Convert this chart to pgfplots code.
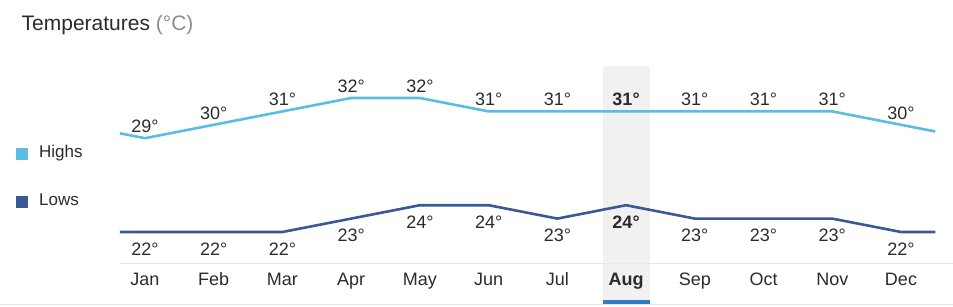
\documentclass[border=0pt]{standalone}
\usepackage{fontspec}
\setmainfont{Liberation Sans}
\usepackage{pgfplots}
\pgfplotsset{compat=1.18}
\definecolor{highc}{HTML}{5DBCE4}
\definecolor{lowc}{HTML}{3A5796}
\definecolor{textc}{HTML}{2B2B2B}
\definecolor{unitc}{HTML}{8C8C8C}
\definecolor{bandc}{HTML}{F1F1F2}
\definecolor{barc}{HTML}{2F7CC0}
\definecolor{gridc}{HTML}{E6E6E6}
\begin{document}
\begin{tikzpicture}
\useasboundingbox (-120pt,-1pt) rectangle (833pt,305pt);
% highlight band for August (x = 7 sits at 626px), drawn beneath the axis
\fill[bandc] (483pt,5pt) rectangle (530pt,239pt);
\fill[barc] (483pt,1pt) rectangle (530pt,5pt);
\draw[gridc, line width=1pt] (0pt,42pt) -- (833pt,42pt);
\begin{axis}[
  at={(0pt,0pt)}, anchor=south west,
  width=815.36pt, height=240pt, scale only axis,
  xmin=-0.3638, xmax=11.5, ymin=16.552, ymax=34.463,
  axis line style={draw=none},
  xtick={0,...,11},
  xticklabels={Jan,Feb,Mar,Apr,May,Jun,Jul,\textbf{Aug},Sep,Oct,Nov,Dec},
  ytick=\empty,
  major tick length=0pt,
  xticklabel style={anchor=base, yshift=19.5pt, inner sep=0pt, font=\fontsize{18}{20}\selectfont, text=textc},
  legend style={draw=none, fill=none, at={(-0.12755,0.5292)}, anchor=west,
    font=\fontsize{17}{20}\selectfont, text=textc, row sep=32pt, column sep=11.5pt,
    inner sep=0pt, outer sep=0pt,
    nodes={inner sep=0pt, text height=12pt, text depth=4pt}},
  legend cell align=left,
  legend image code/.code={\fill[#1] (0pt,-4.5pt) rectangle (9pt,4.5pt);},
]
\addplot[highc, line width=2.6pt, mark=none] coordinates {
 (-0.5,29.5) (0,29) (1,30) (2,31) (3,32) (4,32) (5,31) (6,31) (7,31) (8,31) (9,31) (10,31) (11,30) (11.5,29.5)};
\addlegendentry{Highs}
\addplot[lowc, line width=2.6pt, mark=none] coordinates {
 (-0.5,22) (0,22) (1,22) (2,22) (3,23) (4,24) (5,24) (6,23) (7,24) (8,23) (9,23) (10,23) (11,22) (11.5,22)};
\addlegendentry{Lows}

\addplot[draw=none, mark=none, forget plot, nodes near coords, point meta=explicit symbolic,
  every node near coord/.style={anchor=base, yshift=5.5pt, inner sep=0pt, font=\fontsize{18}{20}\selectfont, text=textc}]
 coordinates {
 (0,29)[29°] (1,30)[30°] (2,31)[31°] (3,32)[32°] (4,32)[32°] (5,31)[31°]
 (6,31)[31°] (7,31)[\textbf{31°}] (8,31)[31°] (9,31)[31°] (10,31)[31°] (11,30)[30°]};
\addplot[draw=none, mark=none, forget plot, nodes near coords, point meta=explicit symbolic,
  every node near coord/.style={anchor=base, yshift=-23pt, inner sep=0pt, font=\fontsize{18}{20}\selectfont, text=textc}]
 coordinates {
 (0,22)[22°] (1,22)[22°] (2,22)[22°] (3,23)[23°] (4,24)[24°] (5,24)[24°]
 (6,23)[23°] (7,24)[\textbf{24°}] (8,23)[23°] (9,23)[23°] (10,23)[23°] (11,22)[22°]};
\end{axis}
\draw[gridc, line width=1pt] (-120pt,0.5pt) -- (833pt,0.5pt);
\node[anchor=base west, inner sep=0pt, font=\fontsize{21}{24}\selectfont, text=textc] at (-98.5pt,275pt) {Temperatures \textcolor{unitc}{(°C)}};
\end{tikzpicture}
\end{document}
